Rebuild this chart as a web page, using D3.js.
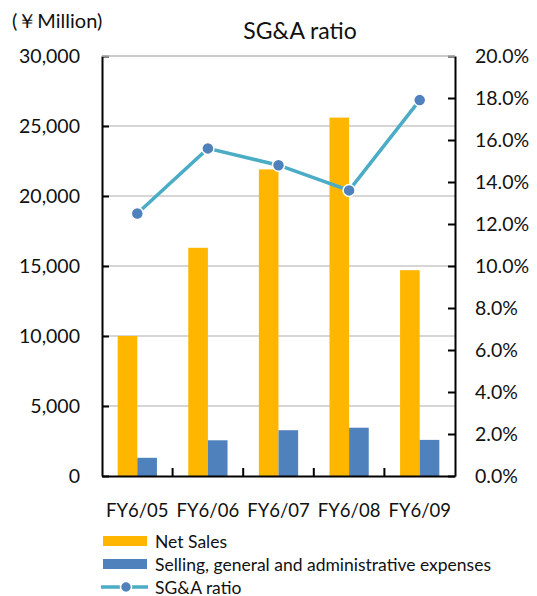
<!DOCTYPE html>
<html>
<head>
<meta charset="utf-8">
<script src="https://cdn.jsdelivr.net/npm/d3@7"></script>
<style>
  body { margin: 0; background: #fff; }
  svg text { font-family: Lato, "Open Sans", sans-serif; fill: #111; }
</style>
</head>
<body>
<div class="canvas"></div>
<script>
const categories = ["FY6/05", "FY6/06", "FY6/07", "FY6/08", "FY6/09"]
const netSales = [10000, 16300, 21900, 25600, 14700]
const sgaExpenses = [1300, 2550, 3270, 3450, 2580]
const sgaRatio = [12.5, 15.6, 14.8, 13.6, 17.9]
const leftTicks = [0, 5000, 10000, 15000, 20000, 25000, 30000]
const rightTicks = [0, 2, 4, 6, 8, 10, 12, 14, 16, 18, 20]

const W = 537, H = 596
const plotL = 102, plotR = 455, plotT = 56, plotB = 476

const svg = d3.select(".canvas").append("svg")
    .attr("width", W)
    .attr("height", H)

const x = d3.scaleBand().domain(categories).range([plotL, plotR])
const xInner = d3.scaleBand().domain(["sales", "sga"])
    .range([x.bandwidth() * 0.222, x.bandwidth() * 0.778])
const y = d3.scaleLinear().domain([0, 30000]).range([plotB, plotT])
const y2 = d3.scaleLinear().domain([0, 20]).range([plotB, plotT])

// gridlines
svg.append("g").selectAll("line")
    .data(leftTicks.filter(d => d > 0))
    .enter().append("line")
    .attr("x1", plotL).attr("x2", plotR)
    .attr("y1", d => y(d)).attr("y2", d => y(d))
    .attr("stroke", "#c8c8c8")
    .attr("stroke-width", 1.5)

// bars
const groups = svg.append("g").selectAll("g")
    .data(categories)
    .enter().append("g")
    .attr("transform", d => `translate(${x(d)},0)`)

groups.append("rect")
    .attr("x", xInner("sales"))
    .attr("width", xInner.bandwidth())
    .attr("y", (d, i) => y(netSales[i]))
    .attr("height", (d, i) => plotB - y(netSales[i]))
    .attr("fill", "#ffb600")

groups.append("rect")
    .attr("x", xInner("sga"))
    .attr("width", xInner.bandwidth())
    .attr("y", (d, i) => y(sgaExpenses[i]))
    .attr("height", (d, i) => plotB - y(sgaExpenses[i]))
    .attr("fill", "#4f81bd")

// axes
const leftAxis = d3.axisLeft(y).tickValues(leftTicks)
    .tickFormat(d3.format(",")).tickSizeInner(-7).tickSizeOuter(0).tickPadding(22)
const rightAxis = d3.axisRight(y2).tickValues(rightTicks)
    .tickFormat(d => d.toFixed(1) + "%").tickSizeInner(-7).tickSizeOuter(0).tickPadding(20)
const bottomAxis = d3.axisBottom(x).tickSize(0).tickPadding(28)

function styleAxis(g) {
    g.select(".domain").attr("stroke", "#000").attr("stroke-width", 2)
    g.selectAll(".tick line").attr("stroke", "#000").attr("stroke-width", 2)
    g.selectAll("text").attr("font-size", 19.5).attr("fill", "#111")
        .style("font-family", "Lato, 'Open Sans', sans-serif")
}

svg.append("g").attr("transform", `translate(${plotL},0)`).call(leftAxis).call(styleAxis)
svg.append("g").attr("transform", `translate(${plotR},0)`).call(rightAxis).call(styleAxis)
svg.append("g").attr("transform", `translate(0,${plotB})`).call(bottomAxis).call(styleAxis)
    .selectAll("text").attr("font-size", 18.5)

// category divider ticks, pointing up from baseline
svg.append("g").selectAll("line")
    .data(categories.slice(1))
    .enter().append("line")
    .attr("x1", d => x(d)).attr("x2", d => x(d))
    .attr("y1", plotB).attr("y2", plotB - 8)
    .attr("stroke", "#000").attr("stroke-width", 2)

// top border
svg.append("line")
    .attr("x1", plotL).attr("x2", plotR)
    .attr("y1", plotT).attr("y2", plotT)
    .attr("stroke", "#c8c8c8").attr("stroke-width", 1.5)

// ratio line
const line = d3.line()
    .x((d, i) => x(categories[i]) + x.bandwidth() / 2)
    .y(d => y2(d))

svg.append("path")
    .datum(sgaRatio)
    .attr("d", line)
    .attr("fill", "none")
    .attr("stroke", "#4bacc6")
    .attr("stroke-width", 3.5)

svg.append("g").selectAll("circle")
    .data(sgaRatio)
    .enter().append("circle")
    .attr("cx", (d, i) => x(categories[i]) + x.bandwidth() / 2)
    .attr("cy", d => y2(d))
    .attr("r", 6)
    .attr("fill", "#4f81bd")
    .attr("stroke", "#fff")
    .attr("stroke-width", 1.5)

// titles
svg.append("text")
    .attr("x", 300).attr("y", 39)
    .attr("text-anchor", "middle")
    .attr("font-size", 23)
    .text("SG&A ratio")

svg.append("text")
    .attr("x", 12).attr("y", 28)
    .attr("font-size", 20)
    .text("(￥Million)")

// legend
const legend = svg.append("g")
const ly = [541, 564, 587]

legend.append("rect").attr("x", 103).attr("y", ly[0] - 5).attr("width", 44).attr("height", 10).attr("fill", "#ffb600")
legend.append("rect").attr("x", 103).attr("y", ly[1] - 5).attr("width", 44).attr("height", 10).attr("fill", "#4f81bd")
legend.append("line").attr("x1", 101).attr("x2", 148).attr("y1", ly[2]).attr("y2", ly[2])
    .attr("stroke", "#4bacc6").attr("stroke-width", 3.5)
legend.append("circle").attr("cx", 126).attr("cy", ly[2]).attr("r", 5.5)
    .attr("fill", "#4f81bd").attr("stroke", "#fff").attr("stroke-width", 1.5)

const legendLabels = ["Net Sales", "Selling, general and administrative expenses", "SG&A ratio"]
legend.selectAll("text")
    .data(legendLabels)
    .enter().append("text")
    .attr("x", 155)
    .attr("y", (d, i) => ly[i] + 6.5)
    .attr("font-size", 17.5)
    .text(d => d)
</script>
</body>
</html>
